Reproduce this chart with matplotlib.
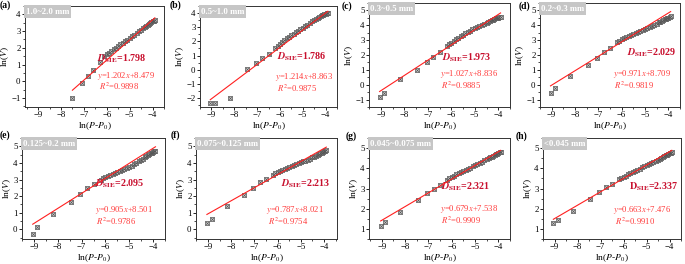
import numpy as np
import matplotlib.pyplot as plt

plt.rcParams['font.family'] = ['Liberation Serif', 'DejaVu Serif']
plt.rcParams['mathtext.fontset'] = 'stix'
plt.rcParams['font.size'] = 6.5

letters = ['a', 'b', 'c', 'd', 'e', 'f', 'g', 'h']
sizes = ['1.0~2.0 mm', '0.5~1.0 mm', '0.3~0.5 mm', '0.2~0.3 mm',
         '0.125~0.2 mm', '0.075~0.125 mm', '0.045~0.075 mm', '<0.045 mm']
slopes = [1.202, 1.214, 1.027, 0.971, 0.905, 0.787, 0.679, 0.663]
intercepts = [8.479, 8.863, 8.836, 8.709, 8.501, 8.021, 7.538, 7.476]
r2 = ['0.9898', '0.9875', '0.9885', '0.9819', '0.9786', '0.9754', '0.9909', '0.9910']
dsie = ['1.798', '1.786', '1.973', '2.029', '2.095', '2.213', '2.321', '2.337']

# pressure steps, ln(P-P0)
x_low = [-9.05, -8.85, -8.2, -7.45, -7.05, -6.77, -6.5]
x_a_low = [-7.5, -7.1, -6.82, -6.6, -6.3]
x_dense = [-6.2, -6.1, -6.0, -5.9, -5.8, -5.7, -5.6, -5.5, -5.4, -5.3, -5.2, -5.1,
           -5.0, -4.9, -4.8, -4.7, -4.6, -4.5, -4.42, -4.35, -4.28, -4.22, -4.16,
           -4.1, -4.05, -4.0, -3.95, -3.9]

# ln(V)
y_a = [-0.98, -0.11, 0.3, 0.67, 1.13,
       1.5, 1.6, 1.7, 1.8, 1.9, 2.0, 2.1, 2.2, 2.3, 2.4, 2.49, 2.58, 2.68, 2.78,
       2.88, 2.98, 3.08, 3.16, 3.23, 3.3, 3.36, 3.42, 3.48, 3.53, 3.58, 3.63, 3.68]
y_b = [-2.35, -2.35, -2.0, 0.02, 0.5, 0.85, 1.14,
       1.5, 1.66, 1.82, 1.98, 2.1, 2.22, 2.33, 2.44, 2.54, 2.64, 2.76, 2.86, 2.96,
       3.06, 3.17, 3.3, 3.42, 3.53, 3.6, 3.67, 3.73, 3.78, 3.83, 3.88, 3.92, 3.96,
       4.0, 4.03]
y_c = [-0.85, -0.54, 0.38, 1.02, 1.5, 1.88, 2.17,
       2.6, 2.72, 2.84, 2.96, 3.07, 3.17, 3.27, 3.37, 3.46, 3.55, 3.63, 3.72, 3.8,
       3.88, 3.96, 4.03, 4.1, 4.18, 4.24, 4.29, 4.34, 4.38, 4.42, 4.46, 4.49, 4.52,
       4.55, 4.58]
y_d = [-0.56, -0.19, 0.62, 1.35, 1.78, 2.19, 2.48,
       2.85, 2.97, 3.06, 3.13, 3.2, 3.26, 3.33, 3.4, 3.47, 3.54, 3.6, 3.67, 3.74,
       3.81, 3.88, 3.95, 4.04, 4.12, 4.19, 4.25, 4.31, 4.36, 4.4, 4.44, 4.48, 4.52,
       4.56, 4.6]
y_e = [-0.3, 0.12, 0.95, 1.64, 2.1, 2.49, 2.73,
       3.0, 3.08, 3.16, 3.22, 3.28, 3.33, 3.38, 3.44, 3.5, 3.56, 3.62, 3.69, 3.76,
       3.84, 3.92, 4.0, 4.09, 4.18, 4.26, 4.33, 4.4, 4.46, 4.52, 4.57, 4.62, 4.66,
       4.7, 4.73]
y_f = [0.36, 0.65, 1.38, 2.09, 2.49, 2.83, 3.02,
       3.3, 3.38, 3.46, 3.53, 3.6, 3.66, 3.72, 3.78, 3.84, 3.89, 3.94, 3.99, 4.04,
       4.09, 4.14, 4.2, 4.26, 4.33, 4.38, 4.43, 4.48, 4.53, 4.57, 4.61, 4.65, 4.69,
       4.72, 4.75]
y_g = [1.13, 1.35, 1.84, 2.43, 2.76, 2.98, 3.18,
       3.42, 3.5, 3.57, 3.64, 3.7, 3.75, 3.8, 3.86, 3.92, 3.98, 4.03, 4.09, 4.15,
       4.21, 4.27, 4.33, 4.39, 4.45, 4.5, 4.54, 4.58, 4.62, 4.66, 4.7, 4.73, 4.76,
       4.79, 4.82]
y_h = [1.27, 1.43, 1.9, 2.46, 2.83, 3.05, 3.21,
       3.45, 3.52, 3.58, 3.64, 3.7, 3.75, 3.8, 3.86, 3.92, 3.98, 4.04, 4.1, 4.15,
       4.2, 4.25, 4.31, 4.37, 4.43, 4.48, 4.52, 4.56, 4.6, 4.64, 4.68, 4.71, 4.74,
       4.77, 4.8]

xs = [x_a_low + x_dense[1:]] + [x_low + x_dense] * 7
ys = [y_a, y_b, y_c, y_d, y_e, y_f, y_g, y_h]

W, H = 685, 264
fig = plt.figure(figsize=(W / 100, H / 100), dpi=100)

# axes boxes in pixels: left, top, right, bottom
boxes = [(25, 6, 164, 107), (200, 6, 337, 107), (369, 3, 510, 107), (540, 3, 680, 107),
         (22, 138, 165, 239), (196, 138, 337, 239), (369, 138, 510, 239), (543, 138, 681, 239)]
xlims = [(-9.57, -3.5), (-9.15, -3.5), (-9.5, -3.5), (-9.47, -3.5),
         (-9.48, -3.53), (-9.52, -3.44), (-9.55, -3.5), (-9.5, -3.55)]
ylims = [(-1.54, 4.33), (-2.64, 4.35), (-1.05, 5.02), (-1.03, 5.02),
         (-0.58, 5.4), (-0.58, 5.4), (0.53, 5.5), (0.54, 5.32)]
# text anchor positions (axes fraction): D, equation
d_pos = [(0.52, 0.475), (0.56, 0.5), (0.52, 0.47), (0.62, 0.52),
         (0.51, 0.55), (0.6, 0.55), (0.51, 0.52), (0.62, 0.52)]
eq_pos = [(0.52, 0.31), (0.55, 0.30), (0.5, 0.32), (0.52, 0.32),
          (0.51, 0.29), (0.5, 0.29), (0.5, 0.30), (0.51, 0.29)]
lab_pos = [(0, 5), (170, 5), (342, 6), (519, 6), (0, 135), (171, 135), (346, 136), (516, 136)]

for i in range(8):
    l, t, r, b = boxes[i]
    ax = fig.add_axes([l / W, 1 - b / H, (r - l) / W, (b - t) / H])
    x = np.array(xs[i])
    y = np.array(ys[i])
    ax.plot(x, y, 's', ms=3.0, mfc='#cfcfcf', mec='#555555', mew=0.5, zorder=2)
    ax.plot(x, y, 'x', ms=2.4, mec='#555555', mew=0.45, zorder=3)
    xl = np.array([x[0], x[-1]])
    ax.plot(xl, slopes[i] * xl + intercepts[i], color='#ff1f1f', lw=0.8, zorder=4)

    ax.set_xlim(xlims[i])
    ax.set_ylim(ylims[i])
    ax.set_xticks([-9, -8, -7, -6, -5, -4])
    ax.set_xticks(np.arange(-9.5, -3.4, 0.5), minor=True)
    lo = int(np.ceil(ylims[i][0]))
    hi = int(np.floor(ylims[i][1] + 0.03))
    ax.set_yticks(range(lo, hi + 1))
    ax.set_yticks(np.arange(lo - 0.5, hi + 0.6, 0.5), minor=True)
    ax.tick_params(which='major', direction='out', length=2.2, width=0.6, pad=1.0, labelsize=6.3)
    ax.tick_params(which='minor', direction='out', length=1.3, width=0.5)
    for s in ax.spines.values():
        s.set_linewidth(0.7)
        s.set_color('#333333')
    ax.set_xlabel(r'ln($P$-$P_0$)', fontsize=6.8, labelpad=0.5)
    ax.set_ylabel(r'ln($V$)', fontsize=6.8, labelpad=0)

    ax.text(0.006, 0.985, sizes[i], transform=ax.transAxes, ha='left', va='top',
            color='white', fontsize=6.3, fontweight='bold',
            bbox=dict(boxstyle='square,pad=0.25', fc='#c6c6c6', ec='none'))
    if letters[i] == 'h':
        dtxt = r'$\mathbf{D}_{\mathbf{SIE}}$' + '=' + dsie[i]
    else:
        dtxt = r'$\mathbfit{D}_{\mathbf{SIE}}$' + '=' + dsie[i]
    ax.text(d_pos[i][0], d_pos[i][1], dtxt, transform=ax.transAxes, ha='left', va='center',
            color='#c8102e', fontsize=7.2, fontweight='bold')
    eq = r'$y$=' + f'{slopes[i]:.3f}' + r'$x$+' + f'{intercepts[i]:.3f}'
    ax.text(eq_pos[i][0], eq_pos[i][1], eq, transform=ax.transAxes, ha='left', va='center',
            color='#ff3b3b', fontsize=6.2)
    ax.text(eq_pos[i][0] + 0.01, eq_pos[i][1] - 0.11, r'$R^2$=' + r2[i], transform=ax.transAxes,
            ha='left', va='center', color='#ff3b3b', fontsize=6.2)

    fig.text(lab_pos[i][0] / W, 1 - lab_pos[i][1] / H, '(' + letters[i] + ')',
             ha='left', va='center', fontsize=7, fontweight='bold')

fig.savefig('out.png', dpi=100)
